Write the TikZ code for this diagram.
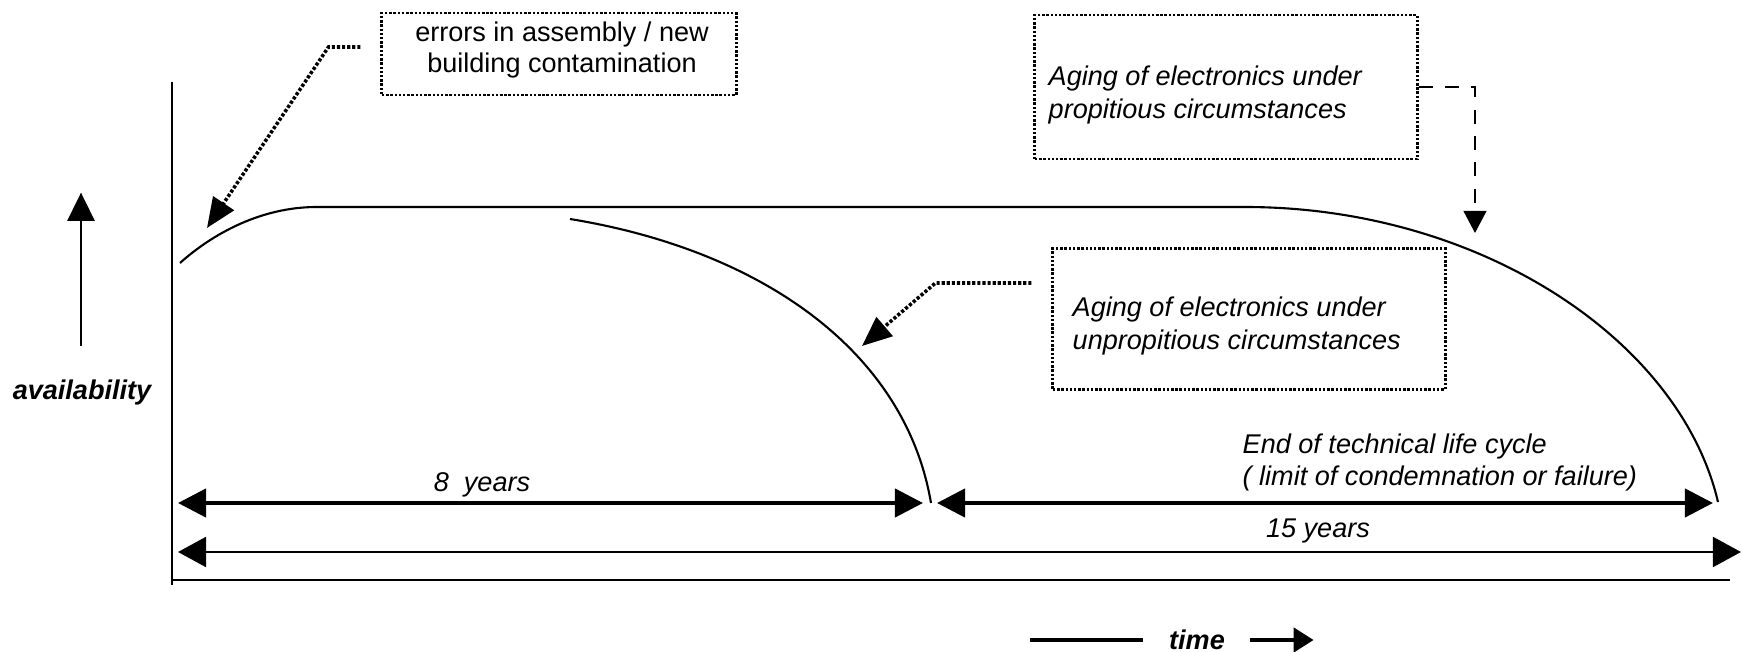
\documentclass[tikz,border=0pt]{standalone}
\usepackage{fontspec}
\setmainfont{Liberation Sans}
\usetikzlibrary{arrows.meta,calc}

\tikzset{
  notebox/.style={draw,line width=0.8pt,dash pattern=on 0.7pt off 0.5pt,inner sep=0pt},
  notetext/.style={inner sep=0pt,align=left,font=\fontsize{7.7}{9.4}\selectfont\itshape},
  dotlink/.style={line width=1pt,dash pattern=on 0.9pt off 0.55pt,-{Triangle[length=8.5pt,width=7pt]}},
  dashlink/.style={line width=0.55pt,dash pattern=on 4pt off 3.5pt,-{Triangle[length=6.3pt,width=6.5pt]}},
  lifecurve/.style={line width=0.6pt},
  span/.style={line width=1.2pt,{Triangle[length=8pt,width=8pt]}-{Triangle[length=8pt,width=8pt]}},
  spanlabel/.style={inner sep=0pt,font=\fontsize{7.7}{9.1}\selectfont\itshape},
  axislabel/.style={inner sep=0pt,font=\fontsize{7.7}{9.1}\selectfont\bfseries\itshape}
}

\begin{document}
\begin{tikzpicture}[x=0.01cm,y=-0.01cm]
\path[use as bounding box,fill=white] (0,0) rectangle (1741,652);

% axes
\draw[line width=0.5pt] (172,82) -- (172,585);
\draw[line width=0.5pt] (172,580) -- (1730,580);

% availability curves
\draw[lifecurve] (180,263) .. controls (200,245) and (250,207) .. (317,207) -- (1245,207) .. controls (1480,207) and (1680,340) .. (1718,502);
\draw[lifecurve] (570,219) .. controls (760,250) and (905,350) .. (931,503);

\coordinate (errtip) at (207,228);
\coordinate (proptip) at (1475,233);
\coordinate (unproptip) at (862,346);

% notes
\node[notebox,minimum width=3.54cm,minimum height=0.82cm] (errbox) at (559,54) {};
\node[inner sep=0pt,align=center,font=\fontsize{7.7}{8.8}\selectfont] (errtext) at (562,50) {errors in assembly / new\\building contamination};
\draw[dotlink] ($(errbox.west)+(-20,-7)$) -- ++(-32,0) -- (errtip);

\node[notebox,minimum width=3.82cm,minimum height=1.44cm] (propbox) at (1226,87) {};
\node[notetext,anchor=west] (proptext) at (1048,95) {Aging of electronics under\\propitious circumstances};
\draw[dashlink] (propbox.east) -| (proptip);

\node[notebox,minimum width=3.92cm,minimum height=1.41cm] (unpropbox) at (1249,319) {};
\node[notetext,anchor=west] (unproptext) at (1072,326) {Aging of electronics under\\unpropitious circumstances};
\draw[dotlink] ($(unpropbox.west)+(-20,-36)$) -- ++(-96,0) -- (unproptip);

% life spans
\coordinate (start8) at (178,503);
\coordinate (end8) at (923,503);
\coordinate (start15) at (937,503);
\coordinate (end15) at (1713,503);
\draw[span] (start8) -- (end8);
\draw[span] (start15) -- (end15);
\node[spanlabel] (eight) at (482,485) {8~ years};
\node[spanlabel,align=left,anchor=west] (endlife) at (1242,462) {End of technical life cycle\\( limit of condemnation or failure)};

\coordinate (tleft) at (178,552);
\coordinate (tright) at (1741,552);
\draw[line width=0.8pt,{Triangle[length=8pt,width=8.5pt]}-{Triangle[length=8pt,width=8.5pt]}] (tleft) -- (tright);
\node[spanlabel] (fifteen) at (1318,531) {15 years};

% axis labels
\node[axislabel] (avail) at (82,393) {availability};
\draw[line width=0.6pt,-{Triangle[length=8pt,width=7.7pt]}] ($(avail.north)+(-1,-34)$) -- ++(0,-153);
\node[axislabel] (timelabel) at (1197,640) {time};
\draw[line width=0.9pt] ($(timelabel.west)+(-25,0)$) -- ++(-113,0);
\draw[line width=0.9pt,-{Triangle[length=5.7pt,width=7pt]}] ($(timelabel.east)+(24,0)$) -- ++(64,0);
\end{tikzpicture}
\end{document}
